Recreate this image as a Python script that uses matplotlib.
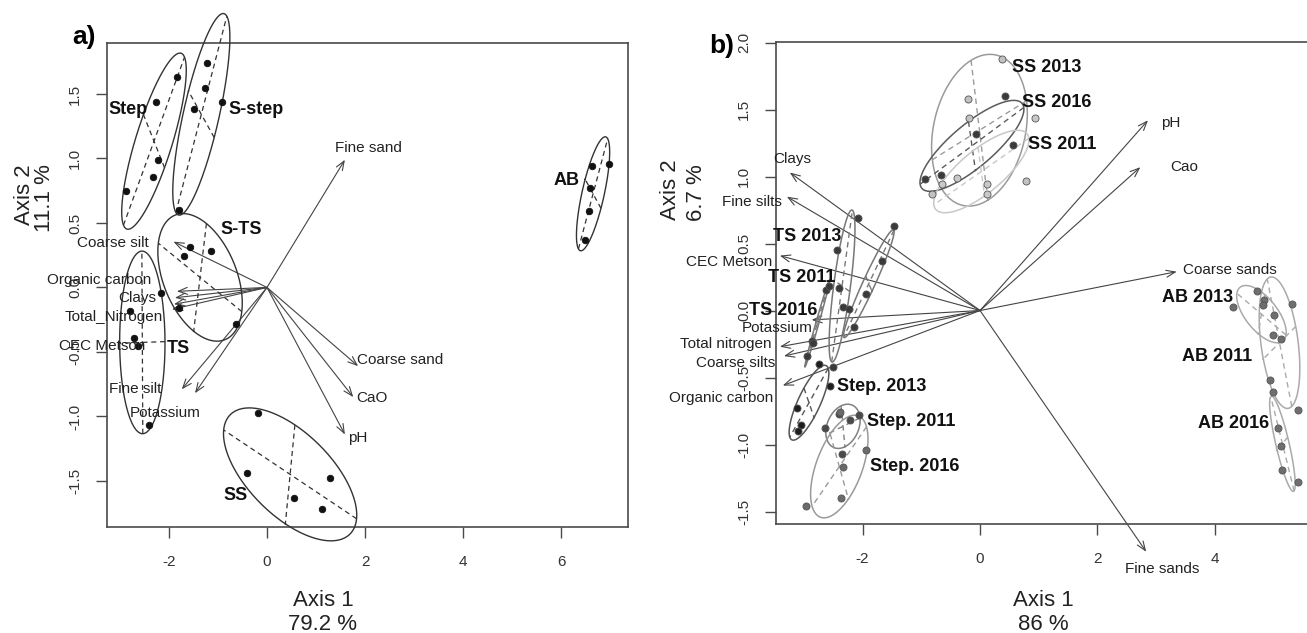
import numpy as np
import matplotlib
matplotlib.use("Agg")
import matplotlib.pyplot as plt
from matplotlib.patches import FancyArrowPatch

plt.rcParams['font.family'] = ['Liberation Sans', 'DejaVu Sans']

# ---------------- Panel a data ----------------
a_groups = ["Step", "S-step", "S-TS", "TS", "SS", "AB"]
a_x = {
    "Step":   [-1.84, -2.27, -2.23, -2.32, -2.87],
    "S-step": [-1.23, -1.27, -1.48, -0.92, -1.80],
    "S-TS":   [-1.57, -1.14, -1.69, -1.80, -0.63],
    "TS":     [-2.80, -2.71, -2.64, -2.41, -2.16],
    "SS":     [-0.19, -0.41, 1.29, 0.55, 1.12],
    "AB":     [6.63, 6.98, 6.60, 6.57, 6.49],
}
a_y = {
    "Step":   [1.63, 1.44, 0.99, 0.86, 0.75],
    "S-step": [1.74, 1.55, 1.38, 1.44, 0.60],
    "S-TS":   [0.31, 0.28, 0.24, -0.16, -0.28],
    "TS":     [-0.18, -0.39, -0.45, -1.07, -0.04],
    "SS":     [-0.975, -1.44, -1.48, -1.63, -1.72],
    "AB":     [0.94, 0.955, 0.77, 0.595, 0.37],
}
a_group_label_x = [-2.83, -0.22, -0.53, -1.81, -0.65, 6.12]
a_group_label_y = [1.38, 1.38, 0.45, -0.47, -1.61, 0.83]

a_vars = ["Coarse silt", "Organic carbon", "Clays", "Total_Nitrogen", "CEC Metson",
          "Fine silt", "Potassium", "Coarse sand", "CaO", "pH", "Fine sand"]
a_vx = [-1.91, -1.84, -1.88, -1.94, -1.90, -1.74, -1.47, 1.86, 1.76, 1.59, 1.59]
a_vy = [0.355, -0.03, -0.08, -0.17, -0.13, -0.79, -0.82, -0.61, -0.85, -1.14, 0.99]
a_var_label_x = [-3.14, -3.43, -2.65, -3.12, -3.37, -2.69, -2.08, 2.71, 2.15, 1.86, 2.06]
a_var_label_y = [0.345, 0.06, -0.08, -0.23, -0.45, -0.79, -0.97, -0.56, -0.86, -1.17, 1.08]

# ---------------- Panel b data ----------------
b_groups = ["SS 2013", "SS 2016", "SS 2011", "TS 2013", "TS 2011", "TS 2016",
            "Step. 2013", "Step. 2011", "Step. 2016", "AB 2013", "AB 2011", "AB 2016"]
b_x = {
    "SS 2013": [0.37, -0.20, -0.19, -0.81, 0.78],
    "SS 2016": [0.43, -0.07, 0.56, -0.94, -0.67],
    "SS 2011": [0.93, -0.65, -0.39, 0.11, 0.11],
    "TS 2013": [-2.08, -2.43, -2.40, -2.33, -2.51],
    "TS 2011": [-1.465, -1.675, -1.95, -2.15, -2.23],
    "TS 2016": [-2.63, -2.58, -2.87, -2.84, -2.94],
    "Step. 2013": [-2.74, -2.555, -3.12, -3.05, -3.10],
    "Step. 2011": [-2.41, -2.21, -2.06, -2.64, -2.35],
    "Step. 2016": [-1.94, -2.33, -2.37, -2.96, -2.385],
    "AB 2013": [4.72, 4.30, 4.83, 4.99, 5.12],
    "AB 2011": [4.82, 5.32, 5.01, 4.93, 5.42],
    "AB 2016": [4.99, 5.07, 5.13, 5.14, 5.42],
}
b_y = {
    "SS 2013": [1.875, 1.576, 1.44, 0.867, 0.97],
    "SS 2016": [1.60, 1.32, 1.235, 0.98, 1.01],
    "SS 2011": [1.44, 0.946, 0.99, 0.944, 0.867],
    "TS 2013": [0.69, 0.45, 0.165, 0.03, -0.42],
    "TS 2011": [0.63, 0.37, 0.12, -0.125, 0.01],
    "TS 2016": [0.15, 0.18, -0.225, -0.245, -0.34],
    "Step. 2013": [-0.40, -0.56, -0.725, -0.855, -0.90],
    "Step. 2011": [-0.77, -0.82, -0.78, -0.88, -1.07],
    "Step. 2016": [-1.04, -1.165, -1.40, -1.46, -0.755],
    "AB 2013": [0.146, 0.03, 0.08, -0.18, -0.21],
    "AB 2011": [0.04, 0.05, -0.03, -0.52, -0.74],
    "AB 2016": [-0.61, -0.88, -1.01, -1.19, -1.28],
}
b_group_label_x = [1.14, 1.31, 1.40, -2.94, -3.04, -3.36, -1.67, -1.18, -1.11, 3.71, 4.03, 4.31]
b_group_label_y = [1.81, 1.55, 1.24, 0.55, 0.245, 0.0, -0.57, -0.825, -1.165, 0.10, -0.345, -0.84]

b_vars = ["Clays", "Fine silts", "CEC Metson", "Potassium", "Total nitrogen", "Coarse silts",
          "Organic carbon", "pH", "Cao", "Coarse sands", "Fine sands"]
b_vx = [-3.24, -3.29, -3.41, -2.87, -3.41, -3.34, -3.36, 2.86, 2.73, 3.35, 2.83]
b_vy = [1.03, 0.85, 0.41, -0.07, -0.27, -0.34, -0.56, 1.42, 1.07, 0.29, -1.80]
b_var_label_x = [-3.19, -3.88, -4.28, -3.46, -4.33, -4.17, -4.41, 3.24, 3.48, 4.26, 3.10]
b_var_label_y = [1.13, 0.81, 0.36, -0.13, -0.25, -0.39, -0.655, 1.40, 1.07, 0.30, -1.93]

# styles (per panel b group): ellipse colour, point colour
b_ell_col = ["#9a9a9a", "#5a5a5a", "#c8c8c8", "#777777", "#777777", "#777777",
             "#555555", "#808080", "#9a9a9a", "#aaaaaa", "#aaaaaa", "#aaaaaa"]
b_pt_col = ["#c2c2c2", "#3a3a3a", "#c8c8c8", "#3a3a3a", "#3a3a3a", "#3a3a3a",
            "#1e1e1e", "#4a4a4a", "#6a6a6a", "#6e6e6e", "#6e6e6e", "#6e6e6e"]

W, H = 1307, 633
fig = plt.figure(figsize=(W / 100, H / 100), dpi=100)


def px_axes(l, r, t, b):
    return fig.add_axes([l / W, (H - b) / H, (r - l) / W, (b - t) / H])


def style_axes(ax, xt, yt, right=True):
    for s in ax.spines.values():
        s.set_color("#4a4a4a")
        s.set_linewidth(1.2)
    if not right:
        ax.spines["right"].set_visible(False)
    ax.set_xticks(xt)
    ax.set_xticklabels(["%g" % v for v in xt])
    ax.set_yticks(yt)
    ax.set_yticklabels(["%.1f" % v for v in yt], rotation=90, va="center")
    ax.tick_params(direction="out", length=8, width=1.0, color="#4a4a4a",
                   labelsize=11, labelcolor="#333333", pad=10)
    ax.tick_params(axis="x", pad=12)


def draw_group(ax, xs, ys, c, ecol, pcol, pedge, lw, s):
    xs = np.asarray(xs, float)
    ys = np.asarray(ys, float)
    m = np.array([xs.mean(), ys.mean()])
    cov = np.cov(np.vstack([xs, ys]), bias=True)
    vals, vecs = np.linalg.eigh(cov)
    vals = np.clip(vals, 0, None)
    t = np.linspace(0, 2 * np.pi, 300)
    pts = m[:, None] + c * (np.sqrt(vals[0]) * vecs[:, [0]] * np.cos(t)
                            + np.sqrt(vals[1]) * vecs[:, [1]] * np.sin(t))
    ax.plot(pts[0], pts[1], color=ecol, lw=lw, clip_on=False, zorder=3)
    for k in range(2):
        d = c * np.sqrt(vals[k]) * vecs[:, k]
        ax.plot([m[0] - d[0], m[0] + d[0]], [m[1] - d[1], m[1] + d[1]],
                color=ecol, lw=lw * 0.9, ls=(0, (4, 3)), clip_on=False, zorder=3)
    ax.scatter(xs, ys, s=s, c=pcol, edgecolors=pedge, linewidths=0.6,
               zorder=5, clip_on=False)


def draw_arrow(ax, x, y):
    ax.add_patch(FancyArrowPatch((0, 0), (x, y),
                                 arrowstyle="->,head_length=0.65,head_width=0.25",
                                 mutation_scale=10, shrinkA=0, shrinkB=0,
                                 lw=0.8, color="#444444", clip_on=False, zorder=2))


# ---------------- Panel a ----------------
axA = px_axes(107, 628, 43, 527)
axA.set_xlim(-3.265, 7.367)
axA.set_ylim(-1.857, 1.895)
style_axes(axA, [-2, 0, 2, 4, 6], [-1.5, -1.0, -0.5, 0.0, 0.5, 1.0, 1.5])

for i, v in enumerate(a_vars):
    draw_arrow(axA, a_vx[i], a_vy[i])
    axA.text(a_var_label_x[i], a_var_label_y[i], v, ha="center", va="center",
             fontsize=11, color="#222222", zorder=6)

for i, g in enumerate(a_groups):
    draw_group(axA, a_x[g], a_y[g], 2.0, "#333333", "#111111", "#111111", 1.0, 22)
    axA.text(a_group_label_x[i], a_group_label_y[i], g, ha="center", va="center",
             fontsize=13, fontweight="bold", color="#111111", zorder=6)

# ---------------- Panel b ----------------
axB = px_axes(776, 1330, 42, 524)
axB.set_xlim(-3.475, 5.96)
axB.set_ylim(-1.593, 2.004)
style_axes(axB, [-2, 0, 2, 4], [-1.5, -1.0, -0.5, 0.0, 0.5, 1.0, 1.5, 2.0], right=False)

for i, v in enumerate(b_vars):
    draw_arrow(axB, b_vx[i], b_vy[i])
    axB.text(b_var_label_x[i], b_var_label_y[i], v, ha="center", va="center",
             fontsize=11, color="#222222", zorder=6)

for i, g in enumerate(b_groups):
    draw_group(axB, b_x[g], b_y[g], 1.5, b_ell_col[i], b_pt_col[i], "#555555", 1.1, 26)
    axB.text(b_group_label_x[i], b_group_label_y[i], g, ha="center", va="center",
             fontsize=13, fontweight="bold", color="#111111", zorder=6)

# ---------------- Titles / axis labels ----------------
fig.text(84 / W, 1 - 37 / H, "a)", fontsize=19, fontweight="bold", ha="center", va="center")
fig.text(722 / W, 1 - 46 / H, "b)", fontsize=19, fontweight="bold", ha="center", va="center")

for xc, t1, t2 in [(323, "Axis 1", "79.2 %"), (1043, "Axis 1", "86 %")]:
    fig.text(xc / W, 1 - 601 / H, t1, fontsize=16, ha="center", va="center", color="#222222")
    fig.text(xc / W, 1 - 625 / H, t2, fontsize=16, ha="center", va="center", color="#222222")

fig.text(24 / W, 1 - 195 / H, "Axis 2", fontsize=16, rotation=90, ha="center", va="center", color="#222222")
fig.text(45 / W, 1 - 198 / H, "11.1 %", fontsize=16, rotation=90, ha="center", va="center", color="#222222")
fig.text(670 / W, 1 - 190 / H, "Axis 2", fontsize=16, rotation=90, ha="center", va="center", color="#222222")
fig.text(696 / W, 1 - 193 / H, "6.7 %", fontsize=16, rotation=90, ha="center", va="center", color="#222222")

fig.savefig("out.png", dpi=100)
